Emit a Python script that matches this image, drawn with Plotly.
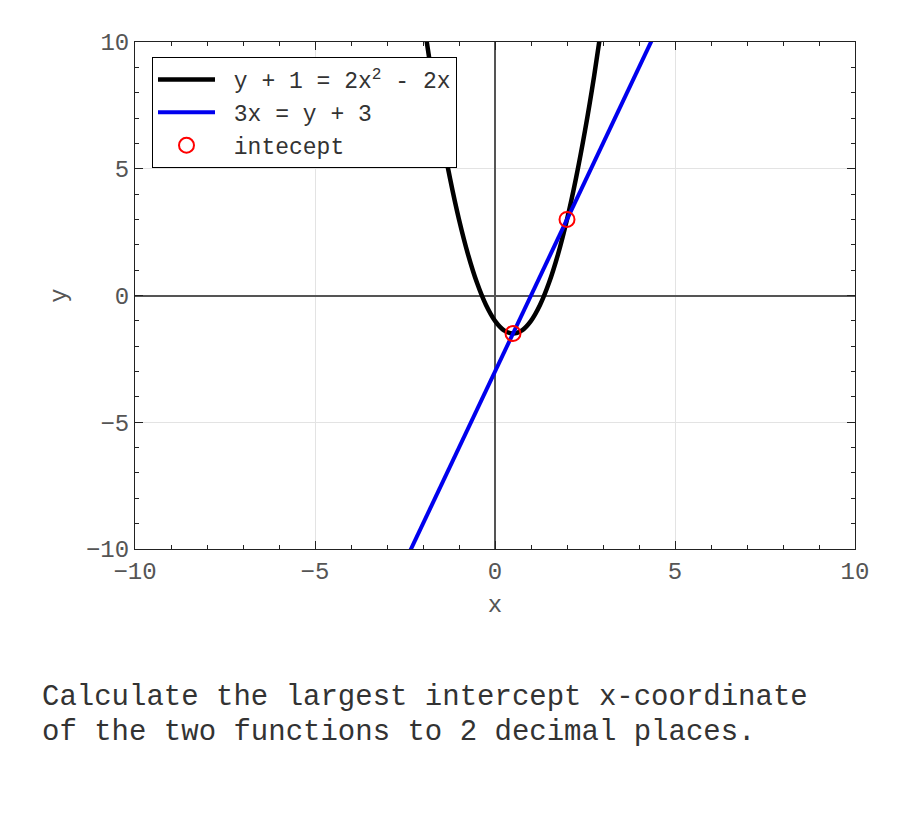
import plotly.graph_objects as go

# Parabola y + 1 = 2x^2 - 2x  (sampled points)
curve_x = [-2.25, -2.0, -1.75, -1.5, -1.25, -1.0, -0.75, -0.5, -0.25, 0.0, 0.25, 0.5,
           0.75, 1.0, 1.25, 1.5, 1.75, 2.0, 2.25, 2.5, 2.75, 3.0, 3.25]
curve_y = [13.625, 11.0, 8.625, 6.5, 4.625, 3.0, 1.625, 0.5, -0.375, -1.0, -1.375, -1.5,
           -1.375, -1.0, -0.375, 0.5, 1.625, 3.0, 4.625, 6.5, 8.625, 11.0, 13.625]

# Line 3x = y + 3
line_x = [-10, 10]
line_y = [-33, 27]

# Intercepts
icpt_x = [0.5, 2.0]
icpt_y = [-1.5, 3.0]

tick_vals = [-10, -5, 0, 5, 10]
tick_text = ["\u221210", "\u22125", "0", "5", "10"]

legend_names = ["y + 1 = 2x<sup>2</sup> - 2x", "3x = y + 3", "intecept"]

FONT = "Liberation Mono, Courier New, monospace"
NB = "\u00a0"

fig = go.Figure()
fig.add_trace(go.Scatter(x=curve_x, y=curve_y, mode="lines", line_shape="spline",
                         line=dict(color="black", width=4.5),
                         name=NB + legend_names[0]))
fig.add_trace(go.Scatter(x=line_x, y=line_y, mode="lines",
                         line=dict(color="#0000ee", width=4),
                         name=NB + legend_names[1]))
fig.add_trace(go.Scatter(x=icpt_x, y=icpt_y, mode="markers",
                         marker=dict(symbol="circle-open", size=15, color="red",
                                     line=dict(width=2, color="red")),
                         name=NB + legend_names[2]))

axis_common = dict(
    range=[-10, 10], tickvals=tick_vals, ticktext=tick_text,
    ticks="inside", ticklen=8, tickcolor="#222", tickwidth=1,
    minor=dict(ticks="inside", dtick=1, ticklen=4, tickcolor="#222", showgrid=False),
    showline=True, linecolor="#222", linewidth=1, mirror="ticks",
    showgrid=True, gridcolor="#e3e3e3", gridwidth=1,
    zeroline=True, zerolinecolor="#555", zerolinewidth=1.5,
    tickfont=dict(family=FONT, size=24, color="#555"),
    title_font=dict(family=FONT, size=24, color="#555"),
)

fig.update_xaxes(**axis_common, title_text="x", title_standoff=10)
fig.update_yaxes(**axis_common, title_text="y", title_standoff=12)

# page body has an 8px margin, so the figure is placed 8px right/down
fig.update_layout(
    width=892, height=817,
    margin=dict(l=127, r=45, t=34, b=276),
    plot_bgcolor="white", paper_bgcolor="white",
    showlegend=True,
    legend=dict(x=(152 - 135) / 720, y=(549 - 57) / 507, xanchor="left", yanchor="top",
                bgcolor="white", bordercolor="black", borderwidth=1,
                font=dict(family=FONT, size=23, color="#333"),
                tracegroupgap=0, itemwidth=57),
    annotations=[
        dict(text="Calculate the largest intercept x-coordinate", xref="paper", yref="paper",
             x=(40 - 135) / 720, y=(549 - 697) / 507, xanchor="left", yanchor="middle",
             showarrow=False, font=dict(family=FONT, size=29, color="#333")),
        dict(text="of the two functions to 2 decimal places.", xref="paper", yref="paper",
             x=(40 - 135) / 720, y=(549 - 732) / 507, xanchor="left", yanchor="middle",
             showarrow=False, font=dict(family=FONT, size=29, color="#333")),
    ],
)

fig.write_html("out.html")
